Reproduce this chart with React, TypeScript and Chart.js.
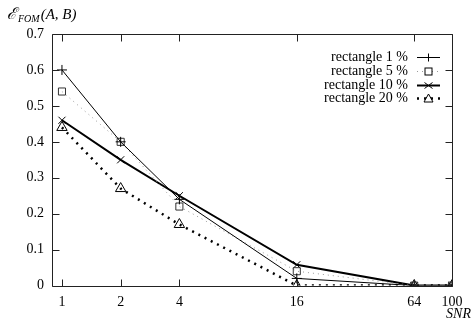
import React, { useEffect, useRef } from "react";
import { Chart, registerables } from "chart.js";

Chart.register(...registerables);

const snr = [1, 2, 4, 16, 64, 100];
const xTicks = [1, 2, 4, 16, 64, 100];
const yTicks = [0, 0.1, 0.2, 0.3, 0.4, 0.5, 0.6, 0.7];
const rect1 = [0.6, 0.4, 0.24, 0.02, 0, 0];
const rect5 = [0.54, 0.4, 0.22, 0.04, 0, 0];
const rect10 = [0.46, 0.35, 0.25, 0.058, 0, 0];
const rect20 = [0.44, 0.27, 0.17, 0, 0, 0];
const labels = ["rectangle 1 %", "rectangle 5 %", "rectangle 10 %", "rectangle 20 %"];

const SERIF = "'Liberation Serif', 'DejaVu Serif', serif";

const framePlugin = {
  id: "frame",
  afterDraw(chart: any) {
    const ctx = chart.ctx;
    const a = chart.chartArea;
    const xs = chart.scales.x;
    const ys = chart.scales.y;
    ctx.save();
    ctx.strokeStyle = "#222";
    ctx.lineWidth = 1;
    ctx.setLineDash([]);
    const L = Math.round(a.left) + 0.5, R = Math.round(a.right) + 0.5;
    const T = Math.round(a.top) + 0.5, B = Math.round(a.bottom) + 0.5;
    ctx.beginPath();
    ctx.moveTo(L, T); ctx.lineTo(R, T); ctx.lineTo(R, B); ctx.lineTo(L, B); ctx.closePath();
    for (const t of xTicks) {
      const x = Math.round(xs.getPixelForValue(t)) + 0.5;
      ctx.moveTo(x, B);
      ctx.lineTo(x, B - 7);
      ctx.moveTo(x, T);
      ctx.lineTo(x, T + 7);
    }
    for (const t of yTicks) {
      const y = Math.round(ys.getPixelForValue(t)) + 0.5;
      ctx.moveTo(L, y);
      ctx.lineTo(L + 7, y);
      ctx.moveTo(R, y);
      ctx.lineTo(R - 7, y);
    }
    ctx.stroke();

    // Title
    ctx.fillStyle = "#000";
    ctx.textBaseline = "alphabetic";
    ctx.textAlign = "left";
    ctx.font = "italic 16px " + SERIF;
    ctx.fillText("ℰ", 7, 19);
    const w1 = ctx.measureText("ℰ").width;
    ctx.font = "italic 10px " + SERIF;
    ctx.fillText("FOM", 8 + w1, 22);
    const w2 = ctx.measureText("FOM").width;
    ctx.font = "italic 15px " + SERIF;
    ctx.fillText("(A, B)", 9 + w1 + w2, 19);

    // x axis title
    ctx.font = "italic 14px " + SERIF;
    ctx.textAlign = "right";
    ctx.fillText("SNR", 471, 318);

    // Legend
    const rows = [57, 71, 85, 98];
    const ds = chart.data.datasets;
    ctx.font = "14px " + SERIF;
    ctx.textBaseline = "middle";
    for (let i = 0; i < 4; i++) {
      const y = rows[i];
      ctx.textAlign = "right";
      ctx.fillStyle = "#000";
      ctx.fillText(labels[i], 408, y);
      const d = ds[i];
      ctx.save();
      ctx.strokeStyle = d.borderColor;
      ctx.lineWidth = d.borderWidth;
      ctx.setLineDash(d.borderDash || []);
      ctx.beginPath();
      ctx.moveTo(417, y + 0.5);
      ctx.lineTo(440, y + 0.5);
      ctx.stroke();
      ctx.restore();
      ctx.save();
      ctx.strokeStyle = "#000";
      ctx.lineWidth = 1;
      const cx = 428.5, cy = y + 0.5, r = 4;
      ctx.beginPath();
      if (d.pointStyle === "cross") {
        ctx.moveTo(cx - r, cy); ctx.lineTo(cx + r, cy);
        ctx.moveTo(cx, cy - r); ctx.lineTo(cx, cy + r);
        ctx.stroke();
      } else if (d.pointStyle === "rect") {
        ctx.fillStyle = "#fff";
        ctx.fillRect(cx - 3.5, cy - 3.5, 7, 7);
        ctx.strokeRect(cx - 3.5, cy - 3.5, 7, 7);
      } else if (d.pointStyle === "crossRot") {
        ctx.moveTo(cx - r, cy - 3); ctx.lineTo(cx + r, cy + 3);
        ctx.moveTo(cx - r, cy + 3); ctx.lineTo(cx + r, cy - 3);
        ctx.stroke();
      } else {
        ctx.fillStyle = "#fff";
        ctx.moveTo(cx, cy - 4.5); ctx.lineTo(cx + 4.5, cy + 3.5); ctx.lineTo(cx - 4.5, cy + 3.5); ctx.closePath();
        ctx.fill();
        ctx.stroke();
      }
      ctx.restore();
    }
    ctx.restore();
  },
};

export default function App() {
  const ref = useRef<HTMLCanvasElement>(null);
  useEffect(() => {
    document.body.style.margin = "0";
    const mk = (data: number[]) => snr.map((x, i) => ({ x, y: data[i] }));
    const chart = new Chart(ref.current!, {
      type: "line",
      data: {
        datasets: [
          { label: labels[0], data: mk(rect1), borderColor: "#000", borderWidth: 1, pointStyle: "cross", pointRadius: 5, pointBorderColor: "#000", pointBorderWidth: 1, pointBackgroundColor: "rgba(0,0,0,0)", tension: 0 },
          { label: labels[1], data: mk(rect5), borderColor: "#9a9a9a", borderWidth: 1, borderDash: [1, 4], pointStyle: "rect", pointRadius: 5, pointBorderColor: "#333", pointBorderWidth: 1, pointBackgroundColor: "rgba(255,255,255,0)", tension: 0 },
          { label: labels[2], data: mk(rect10), borderColor: "#000", borderWidth: 2, pointStyle: "crossRot", pointRadius: 5, pointBorderColor: "#000", pointBorderWidth: 1, pointBackgroundColor: "rgba(0,0,0,0)", tension: 0 },
          { label: labels[3], data: mk(rect20), borderColor: "#000", borderWidth: 2.5, borderDash: [2, 5], pointStyle: "triangle", pointRadius: 6, pointBorderColor: "#000", pointBorderWidth: 1, pointBackgroundColor: "rgba(0,0,0,0)", tension: 0 },
        ] as any,
      },
      options: {
        animation: false,
        responsive: false,
        maintainAspectRatio: false,
        layout: { padding: { top: 34, right: 21, left: 0, bottom: 0 } },
        plugins: { legend: { display: false }, tooltip: { enabled: false } },
        scales: {
          x: {
            type: "logarithmic",
            min: 0.889,
            max: 100,
            grid: { display: false, drawTicks: false },
            border: { display: false },
            afterBuildTicks: (s: any) => { s.ticks = xTicks.map((v) => ({ value: v })); },
            afterFit: (s: any) => { s.height = 40.4; },
            ticks: {
              color: "#000",
              font: { family: SERIF, size: 14 },
              padding: 8,
              maxRotation: 0,
              autoSkip: false,
              callback: (v: any) => String(v),
            },
          },
          y: {
            min: 0,
            max: 0.7,
            grid: { display: false, drawTicks: false },
            border: { display: false },
            afterBuildTicks: (s: any) => { s.ticks = yTicks.map((v) => ({ value: v })); },
            afterFit: (s: any) => { s.width = 52; },
            ticks: {
              color: "#000",
              font: { family: SERIF, size: 14 },
              padding: 8,
              callback: (v: any) => (v === 0 ? "0" : Number(v).toFixed(1)),
            },
          },
        },
      },
      plugins: [framePlugin],
    });
    return () => chart.destroy();
  }, []);
  return (
    <div style={{ position: "relative", width: 473, height: 326 }}>
      <canvas ref={ref} width={473} height={326} style={{ width: 473, height: 326 }} />
    </div>
  );
}
